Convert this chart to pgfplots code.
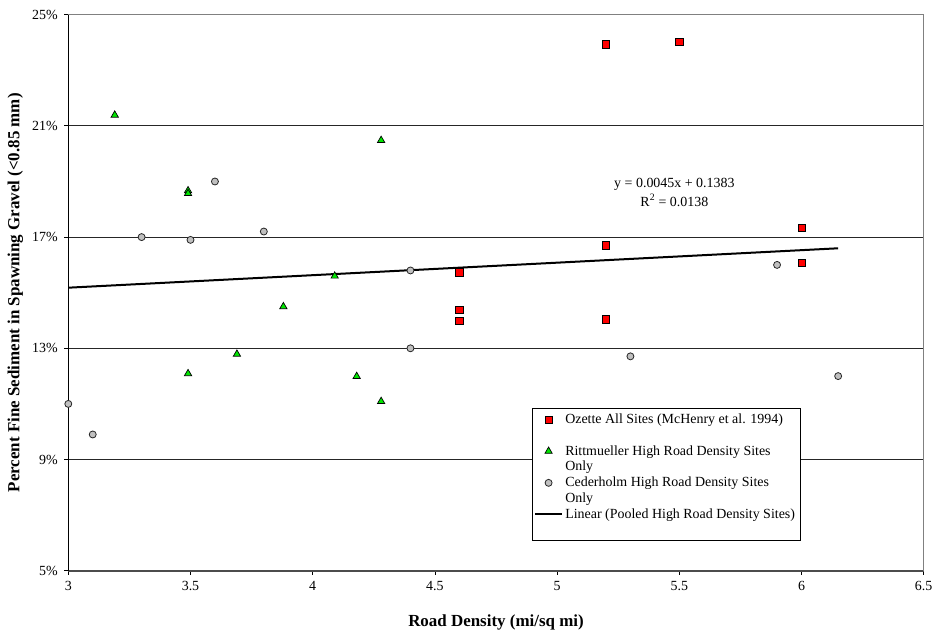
\documentclass[border=0pt]{standalone}
\usepackage{fontspec}
\setmainfont{Liberation Serif}
\usepackage{pgfplots}
\pgfplotsset{compat=1.18}
\definecolor{ozred}{RGB}{255,0,0}
\definecolor{rtgreen}{RGB}{0,230,0}
\definecolor{cdgray}{RGB}{192,192,192}
\begin{document}
\begin{tikzpicture}
\useasboundingbox (-68.3bp,-60.3bp) rectangle (865.7bp,570.7bp);
\begin{axis}[
  scale only axis,
  width=855.4bp, height=556bp,
  xmin=3, xmax=6.5, ymin=5, ymax=25,
  clip=false,
  axis x line*=bottom, axis y line*=left,
  x axis line style={draw=black!70, line width=1.6bp},
  y axis line style={draw=black, line width=0.9bp},
  xtick={3,3.5,4,4.5,5,5.5,6,6.5},
  xticklabels={3,3.5,4,4.5,5,5.5,6,6.5},
  ytick={5,9,13,17,21,25},
  yticklabels={5\%,9\%,13\%,17\%,21\%,25\%},
  tick align=outside,
  major tick length=4bp,
  tick style={black, line width=0.8bp},
  ymajorgrids,
  major grid style={black!85, line width=0.8bp},
  tick label style={font=\fontsize{14}{16}\selectfont},
  xticklabel style={yshift=-3bp},
  yticklabel style={xshift=-3bp},
  xlabel={\textbf{Road Density (mi/sq mi)}},
  ylabel={\textbf{Percent Fine Sediment in Spawning Gravel (<0.85 mm)}},
  label style={font=\fontsize{17}{19}\selectfont},
  xlabel style={at={(axis description cs:0.5,0)}, anchor=center, yshift=-52bp},
  ylabel style={at={(axis description cs:0,0.5)}, anchor=center, rotate=0, yshift=53bp},
  legend image code/.code={\draw[yshift=3.8bp,mark repeat=2,mark phase=2,#1] plot coordinates {(0bp,0bp) (13.5bp,0bp) (27bp,0bp)};},
  legend style={
    at={(axis cs:4.896,10.84)}, anchor=north west,
    draw=black, line width=0.8bp, fill=white,
    font=\fontsize{14}{15.7}\selectfont,
    inner xsep=2bp, inner ysep=2.5bp,
    row sep=0bp, column sep=1bp,
    nodes={inner sep=1.2bp, text height=11bp, text depth=18.2bp},
    cells={anchor=base west},
  },
]
\addplot[only marks, mark=square*, mark size=3.6bp, mark options={fill=ozred, draw=black, line width=0.7bp}]
  coordinates {(5.2,23.93) (5.5,24.02) (5.2,16.70) (4.6,15.73) (4.6,14.39) (4.6,13.99) (5.2,14.04) (6.0,17.34) (6.0,16.06)};
\addlegendentry{\parbox[t]{232bp}{Ozette All Sites (McHenry et al. 1994)}}
\addplot[only marks, mark=triangle*, mark size=4.2bp, mark options={fill=rtgreen, draw=black, line width=0.7bp}]
  coordinates {(3.19,21.39) (3.49,18.67) (3.49,18.57) (4.28,20.48) (3.88,14.50) (4.09,15.60) (3.49,12.09) (3.69,12.79) (4.18,11.99) (4.28,11.09)};
\addlegendentry{\parbox[t]{232bp}{Rittmueller High Road Density Sites\\Only}}
\addplot[only marks, mark=*, mark size=3.5bp, mark options={fill=cdgray, draw=black!85, line width=0.8bp}]
  coordinates {(3.6,19.0) (3.3,17.0) (3.5,16.9) (3.8,17.2) (4.4,15.8) (5.9,16.0) (3.0,11.0) (3.1,9.9) (4.4,13.0) (5.3,12.71) (6.15,12.0)};
\addlegendentry{\parbox[t]{232bp}{Cederholm High Road Density Sites\\Only}}
\addplot[black, line width=2bp, no marks]
  coordinates {(3,15.18) (6.15,16.5975)};
\addlegendentry{\parbox[t]{232bp}{Linear (Pooled High Road Density Sites)}}
\draw[black!50, line width=1.2bp] (rel axis cs:1,0) -- (rel axis cs:1,1);
\draw[black!50, line width=1.2bp] (rel axis cs:0,1) -- (rel axis cs:1,1);
\node[font=\fontsize{14}{16}\selectfont, align=center, inner sep=0pt] at (axis cs:5.48,18.62)
  {y = 0.0045x + 0.1383\\[3bp]R\textsuperscript{2} = 0.0138};
\end{axis}
\end{tikzpicture}
\end{document}
